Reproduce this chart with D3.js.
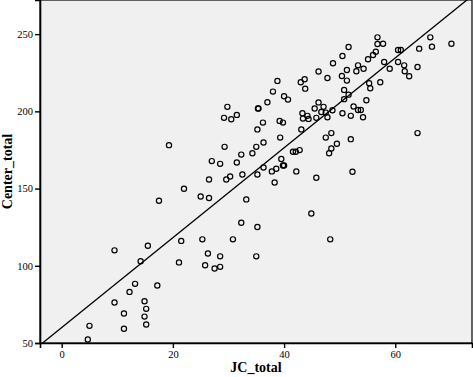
<!DOCTYPE html>
<html>
<head>
<meta charset="utf-8">
<script src="https://cdn.jsdelivr.net/npm/d3@7"></script>
<style>
  body { margin: 0; background: #fff; }
  .tick text { font-family: "Liberation Serif", serif; font-size: 10.5px; fill: #000; }
  .axis-title { font-family: "Liberation Serif", serif; font-weight: bold; font-size: 14px; fill: #000; }
</style>
</head>
<body>
<div id="chart"></div>
<script>
// JC_total values (x)
var jcTotal = [46.2, 38.8, 43.0, 43.7, 43.8, 38.0, 40.0, 40.7, 37.0, 29.8,
    35.3, 35.4, 29.2, 30.5, 31.5, 36.2, 39.2, 39.8, 43.3, 44.2,
    43.4, 44.4, 45.8, 45.5, 46.2, 35.2, 43.1, 51.6, 56.8, 56.8,
    57.8, 50.5, 56.0, 56.5, 55.1, 48.8, 53.3, 53.0, 54.3, 51.3,
    47.8, 50.4, 51.3, 58.0, 59.0, 60.5, 61.0, 60.5, 61.6, 61.7,
    62.5, 64.0, 64.3, 66.3, 66.6, 70.1, 55.3, 55.5, 57.3, 50.8,
    51.6, 50.8, 54.8, 47.1, 46.7, 47.5, 47.8, 48.7, 50.5, 52.0,
    52.5, 53.3, 53.8, 54.2, 47.5, 48.5, 52.0, 49.5, 48.5, 48.1,
    64.0, 52.3, 45.8, 44.9, 48.3, 19.3, 29.3, 35.0, 36.3, 39.3,
    32.3, 34.3, 27.0, 28.5, 31.5, 41.6, 42.1, 42.8, 39.5, 39.8,
    40.0, 36.3, 38.6, 37.8, 42.2, 35.2, 32.5, 30.3, 29.6, 26.5,
    38.3, 22.0, 25.0, 26.5, 17.5, 33.2, 32.3, 35.2, 21.5, 25.3,
    30.8, 9.5, 15.5, 14.2, 13.2, 12.2, 17.2, 9.5, 14.9, 15.2,
    11.2, 14.9, 15.2, 5.0, 11.2, 4.7, 21.1, 26.3, 28.5, 25.8,
    27.5, 28.5, 35.0];

// Center_total values (y), same order
var centerTotal = [225.8, 219.7, 218.8, 220.8, 214.7, 212.8, 209.8, 207.6, 205.9, 202.9,
    201.8, 201.8, 195.8, 194.9, 197.7, 192.7, 193.8, 192.7, 198.8, 197.1,
    195.3, 195.1, 195.8, 201.8, 205.8, 188.3, 188.3, 241.7, 247.9, 243.6,
    243.8, 235.8, 236.5, 238.6, 233.7, 231.1, 229.8, 226.0, 227.6, 226.8,
    221.6, 222.9, 219.9, 232.0, 227.6, 239.7, 239.7, 232.0, 229.8, 226.0,
    222.7, 228.7, 240.6, 247.9, 241.9, 243.8, 218.2, 215.0, 218.8, 213.9,
    210.8, 207.9, 207.2, 202.9, 199.6, 199.2, 196.2, 200.7, 198.8, 197.1,
    203.1, 200.9, 200.9, 196.2, 183.0, 185.9, 182.0, 179.0, 175.9, 172.9,
    185.9, 160.9, 157.0, 133.9, 117.1, 178.1, 177.0, 177.0, 179.8, 183.0,
    172.0, 172.9, 167.8, 166.0, 166.9, 173.8, 173.8, 174.9, 169.1, 164.9,
    164.9, 163.6, 162.8, 161.1, 161.1, 159.1, 159.1, 157.8, 155.9, 155.9,
    153.9, 149.9, 144.9, 143.9, 142.1, 143.0, 127.9, 125.1, 116.1, 117.1,
    117.1, 110.0, 113.0, 102.9, 88.3, 83.1, 87.2, 76.2, 77.0, 72.1,
    69.1, 67.1, 62.0, 61.1, 59.2, 52.3, 102.2, 108.0, 106.1, 100.3,
    98.2, 99.3, 106.1];

var xTicks = [0, 20, 40, 60];
var yTicks = [50, 100, 150, 200, 250];

// fit line: Center_total = intercept + slope * JC_total
var fitIntercept = 60.0;
var fitSlope = 2.91;

var width = 473, height = 377;
var margin = {top: 0, right: 1, bottom: 34, left: 40};
var plotW = width - margin.left - margin.right;
var plotH = height - margin.top - margin.bottom;

var svg = d3.select("#chart").append("svg")
    .attr("width", width)
    .attr("height", height);

var g = svg.append("g")
    .attr("transform", "translate(" + margin.left + "," + margin.top + ")");

var x = d3.scaleLinear().domain([-3.9, 73.8]).range([0, plotW]);
var y = d3.scaleLinear().domain([50, 272.1]).range([plotH, 0]);

// plot background
g.append("rect")
    .attr("x", 0).attr("y", 0)
    .attr("width", plotW).attr("height", plotH)
    .attr("fill", "#f0f0f0")
    .attr("stroke", "#000")
    .attr("stroke-width", 1.2);

g.append("clipPath").attr("id", "clip")
    .append("rect").attr("width", plotW).attr("height", plotH);

// points
var pts = jcTotal.map(function(d, i) { return {x: d, y: centerTotal[i]}; });
g.append("g")
    .attr("clip-path", "url(#clip)")
    .selectAll("circle")
    .data(pts)
    .enter().append("circle")
    .attr("cx", function(d) { return x(d.x); })
    .attr("cy", function(d) { return y(d.y); })
    .attr("r", 2.6)
    .attr("fill", "none")
    .attr("stroke", "#000")
    .attr("stroke-width", 1.2);

// fit line
var xd = x.domain();
g.append("line")
    .attr("clip-path", "url(#clip)")
    .attr("x1", x(xd[0])).attr("y1", y(fitIntercept + fitSlope * xd[0]))
    .attr("x2", x(xd[1])).attr("y2", y(fitIntercept + fitSlope * xd[1]))
    .attr("stroke", "#000")
    .attr("stroke-width", 1.3);

// axes
var xAxis = g.append("g")
    .attr("transform", "translate(0," + plotH + ")")
    .call(d3.axisBottom(x).tickValues(xTicks).tickSize(5).tickPadding(3));
var yAxis = g.append("g")
    .call(d3.axisLeft(y).tickValues(yTicks).tickSize(5).tickPadding(2));
[xAxis, yAxis].forEach(function(a) {
    a.select(".domain").attr("stroke-width", 1.6);
    a.selectAll(".tick line").attr("stroke-width", 1.4);
});

// axis titles
svg.append("text")
    .attr("class", "axis-title")
    .attr("x", margin.left + plotW / 2)
    .attr("y", 372)
    .attr("text-anchor", "middle")
    .text("JC_total");

svg.append("text")
    .attr("class", "axis-title")
    .attr("transform", "translate(11.5," + (margin.top + plotH / 2) + ") rotate(-90)")
    .attr("text-anchor", "middle")
    .text("Center_total");
</script>
</body>
</html>
